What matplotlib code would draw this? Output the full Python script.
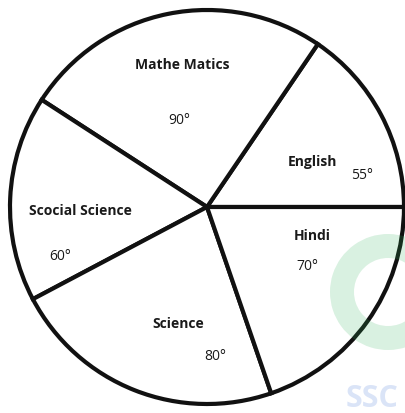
import matplotlib.pyplot as plt
from matplotlib.patches import Wedge

# subjects and their angles as written on the chart (degrees)
subjects = ['English', 'Mathe Matics', 'Scocial Science', 'Science', 'Hindi']
angles = [55, 90, 60, 80, 70]

# label anchors (pixel positions in the 406x413 picture)
name_px = [(312, 162), (182, 65), (80, 211), (178, 324), (312, 236)]
value_px = [(362, 176), (179, 120), (60, 257), (215, 357), (307, 267)]

W, H = 406, 413
cx, cy, R = 207, 207, 197

def to_data(p):
    return (p[0] - cx) / R, (cy - p[1]) / R

plt.rcParams['font.family'] = ['Open Sans', 'DejaVu Sans']

fig = plt.figure(figsize=(W / 100, H / 100), dpi=100)
ax = fig.add_axes([0, 0, 1, 1])

ax.pie(angles, startangle=0, counterclock=True, radius=1,
       colors=['white'] * len(angles),
       wedgeprops=dict(edgecolor='#111111', linewidth=3.0))

for name, val, npx, vpx in zip(subjects, angles, name_px, value_px):
    x, y = to_data(npx)
    ax.text(x, y, name, ha='center', va='center', fontsize=10,
            fontweight='bold', color='#1a1a1a')
    x, y = to_data(vpx)
    ax.text(x, y, f'{val}°', ha='center', va='center', fontsize=10,
            color='#1a1a1a')

# faint watermark in the corner (logo ring + letters)
gx, gy = to_data((388, 292))
ax.add_patch(Wedge((gx, gy), 58 / R, 35, 325, width=24 / R,
                   facecolor='#2fb35a', edgecolor='none', alpha=0.18,
                   zorder=5))
sx, sy = to_data((372, 399))
ax.text(sx, sy, 'SSC', ha='center', va='center', fontsize=22,
        fontweight='bold', color='#4a78d8', alpha=0.2)

ax.set_xlim(-cx / R, (W - cx) / R)
ax.set_ylim((cy - H) / R, cy / R)
ax.set_aspect('equal')
ax.axis('off')

fig.savefig('out.png', dpi=100, facecolor='white')
